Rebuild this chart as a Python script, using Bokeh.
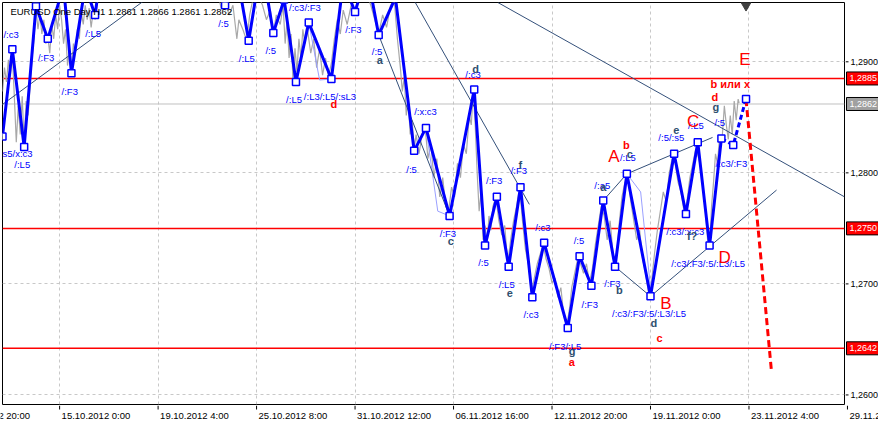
from bokeh.plotting import figure
from bokeh.layouts import row, column
from bokeh.models import Range1d, FixedTicker, Span
from bokeh.core.properties import value
from bokeh.embed import file_html
from bokeh.resources import INLINE

FONT = "Liberation Sans"

# ---------------- data ----------------
# x = H1 bar index (one bar per hour, weekends skipped), y = price
time_tick_bars = [60, 160, 260, 360, 460, 560, 660, 760, 860]
time_tick_labels = ["15.10.2012 0:00", "19.10.2012 4:00", "25.10.2012 8:00", "31.10.2012 12:00",
                    "06.11.2012 16:00", "12.11.2012 20:00", "19.11.2012 0:00", "23.11.2012 4:00",
                    "29.11.2012 8:00"]
first_label_end_bar = 30
first_bar_label = "12.10.2012 20:00"
price_ticks = [1.26, 1.27, 1.28, 1.29]

header_text = "EURUSD One Day H1  1.2861 1.2866 1.2861 1.2862"

support_levels = [1.2885, 1.2750, 1.2642]
bid_price = 1.2862
tag_prices = [1.2885, 1.2750, 1.2642, 1.2862]
tag_colors = ["#FF0000", "#FF0000", "#FF0000", "#A0A0A0"]

close_bar = [2, 4, 6, 8, 10, 12, 14, 16, 18, 20, 22, 24, 26, 28, 30, 32, 34, 36, 38, 40, 42, 44, 46, 48,
             50, 52, 54, 56, 58, 60, 62, 64, 66, 68, 70, 72, 74, 76, 78, 80, 82, 84, 86, 88, 90, 92, 94,
             96, 98, 100, 220, 224, 228, 232, 236, 240, 242, 246, 250, 253, 256, 260, 266, 270, 274, 277,
             280, 284, 287, 289, 291, 293, 295, 297, 299, 301, 303, 305, 307, 309, 311, 313, 315, 318,
             321, 324, 327, 330, 333, 336, 339, 342, 345, 348, 352, 356, 360, 364, 370, 376, 380, 384,
             388, 392, 396, 400, 403, 406, 408, 410, 412, 414, 416, 418, 420, 422, 425, 428, 431, 434,
             437, 440, 443, 446, 449, 452, 455, 458, 461, 464, 467, 470, 473, 476, 478, 480, 482, 484,
             486, 488, 490, 492, 494, 496, 498, 500, 503, 506, 509, 512, 515, 518, 521, 524, 527, 530,
             533, 536, 539, 542, 545, 548, 551, 554, 557, 560, 563, 566, 569, 572, 575, 578, 580, 583,
             586, 589, 592, 595, 598, 601, 604, 607, 610, 613, 616, 619, 622, 625, 628, 631, 634, 637,
             640, 643, 646, 649, 652, 655, 658, 661, 664, 667, 670, 673, 676, 679, 682, 685, 688, 691,
             694, 697, 700, 703, 706, 709, 712, 715, 718, 720, 722, 724, 726, 728, 730, 733, 735, 737,
             739, 741, 743, 745, 747, 749, 750]
close_price = [1.28733, 1.28948, 1.28819, 1.29017, 1.28862, 1.29078, 1.28690, 1.28276, 1.28603, 1.28345,
               1.28690, 1.28259, 1.28647, 1.28517, 1.28776, 1.29034, 1.29207, 1.29483, 1.29293, 1.29422,
               1.29250, 1.29379, 1.29164, 1.29224, 1.29078, 1.29336, 1.29207, 1.29422, 1.29293, 1.29509,
               1.29379, 1.29164, 1.29293, 1.28966, 1.29121, 1.28914, 1.29164, 1.29078, 1.29293, 1.29207,
               1.29448, 1.29336, 1.29509, 1.29379, 1.29483, 1.29310, 1.29448, 1.29379, 1.29509, 1.29638,
               1.29638, 1.29483, 1.29552, 1.29422, 1.29509, 1.29207, 1.29379, 1.29293, 1.29190, 1.29422,
               1.29552, 1.29638, 1.29509, 1.29379, 1.29466, 1.29250, 1.29422, 1.29336, 1.29509, 1.29164,
               1.29379, 1.29034, 1.29250, 1.28828, 1.29121, 1.28905, 1.29207, 1.29034, 1.29293, 1.29164,
               1.29336, 1.29207, 1.29078, 1.29207, 1.28948, 1.29121, 1.28879, 1.29034, 1.28862, 1.28991,
               1.29207, 1.29379, 1.29250, 1.29466, 1.29336, 1.29509, 1.29422, 1.29595, 1.29638, 1.29509,
               1.29379, 1.29250, 1.29422, 1.29310, 1.29509, 1.29534, 1.29207, 1.28948, 1.28733, 1.28862,
               1.28517, 1.28647, 1.28345, 1.28474, 1.28216, 1.28345, 1.28172, 1.28345, 1.28431, 1.28129,
               1.28259, 1.27957, 1.28129, 1.27784, 1.27957, 1.27698, 1.27655, 1.27871, 1.27784, 1.28086,
               1.27957, 1.28259, 1.28172, 1.28517, 1.28431, 1.28733, 1.28431, 1.28000, 1.27655, 1.27828,
               1.27397, 1.27526, 1.27353, 1.27612, 1.27483, 1.27698, 1.27784, 1.27569, 1.27440, 1.27526,
               1.27181, 1.27397, 1.27569, 1.27698, 1.27871, 1.27569, 1.27310, 1.27181, 1.26922, 1.27052,
               1.27181, 1.27267, 1.27353, 1.27224, 1.27138, 1.27009, 1.27052, 1.26879, 1.26966, 1.26707,
               1.26621, 1.26793, 1.26966, 1.27095, 1.27224, 1.27181, 1.27095, 1.27181, 1.27009, 1.27138,
               1.27353, 1.27526, 1.27698, 1.27612, 1.27397, 1.27569, 1.27267, 1.27181, 1.27526, 1.27784,
               1.27914, 1.27957, 1.27741, 1.27569, 1.27397, 1.27483, 1.27224, 1.27095, 1.26922, 1.27009,
               1.27267, 1.27483, 1.27655, 1.27828, 1.27741, 1.28000, 1.28129, 1.28086, 1.27914, 1.27828,
               1.27655, 1.27741, 1.27957, 1.28086, 1.28216, 1.28129, 1.28000, 1.27741, 1.27397, 1.27328,
               1.27698, 1.27914, 1.28172, 1.28086, 1.28302, 1.28345, 1.28603, 1.28431, 1.28302, 1.28517,
               1.28345, 1.28647, 1.28474, 1.28664, 1.28629]

zz_bar = [2, 12, 24, 36, 48, 64, 72, 86, 96, 102, 222, 228, 238, 252, 265, 277, 288, 300, 313, 336,
          348, 360, 372, 384, 401, 420, 432, 456, 481, 492, 504, 516, 528, 540, 552, 576, 588, 600,
          612, 624, 636, 660, 684, 696, 708, 720, 732]
zz_price = [1.28328, 1.29112, 1.28233, 1.29500, 1.29207, 1.29681, 1.28897, 1.29681, 1.29422, 1.29810,
            1.29810, 1.29509, 1.29897, 1.29190, 1.29897, 1.29259, 1.29560, 1.28819, 1.29353, 1.28845,
            1.29724, 1.29448, 1.29810, 1.29241, 1.29578, 1.28198, 1.28405, 1.27612, 1.28750, 1.27345,
            1.27784, 1.27155, 1.27871, 1.26879, 1.27371, 1.26603, 1.27250, 1.26983, 1.27750, 1.27155,
            1.27991, 1.26888, 1.28172, 1.27629, 1.28276, 1.27345, 1.28310]

forecast_bar = [732, 744, 757]
forecast_price = [1.28310, 1.28250, 1.28664]
target_bar = [757, 783]
target_price = [1.28664, 1.26198]

light_bars = [[313, 324, 336], [432, 444, 456], [636, 650, 660]]
light_prices = [[1.29353, 1.28836, 1.28845], [1.28405, 1.27655, 1.27612], [1.27991, 1.27828, 1.26966]]

trend_bars = [[0, 146], [384, 456], [420, 537], [505, 857], [612, 636, 723], [624, 660, 788]]
trend_prices = [[1.28603, 1.29552], [1.29241, 1.27612], [1.29552, 1.27716], [1.29534, 1.27784],
                [1.27750, 1.27991, 1.28319], [1.27155, 1.26888, 1.27845]]

shift_bar = [757]
shift_price = [1.29509]

blue_text = ["/:c3", "/:F3", "/:L5", "/:F3", "s5/x:c3", "/:L5", "/:5", "/:L5", "/:5", "/:c3/:F3", "/:F3",
             "/:L5", "/:L3/:L5/:sL3", "/:5", "/:x:c3", "/:5", "/:c3", "/:F3", "/:F3", "/:F3", "/:c3", "/:5",
             "/:L5", "/:c3", "/:5", "/:F3", "/:F3/:L5", "/:F3", "/:c3/:F3/:5/:L3/:L5",
             "/:c3/:F3/:5/:L3/:L5", "/:c3/:x:c3", "/:a5", "/:L5", "/:5/:s5", "/:L5", "/:5", "/:c3/:F3"]
blue_bar = [3, 38, 86, 62, 2, 14, 221, 242, 269, 293, 350, 290, 308, 377, 420, 412, 472, 493, 518, 446,
            543, 485, 506, 531, 582, 590, 557, 613, 621, 681, 676, 603, 629, 668, 698, 725, 726]
blue_price = [1.29250, 1.29043, 1.29259, 1.28733, 1.28172, 1.28078, 1.29345, 1.29034, 1.29103, 1.29491,
              1.29293, 1.28664, 1.28690, 1.29095, 1.28552, 1.28034, 1.28888, 1.27931, 1.28017, 1.27457,
              1.27509, 1.27190, 1.26991, 1.26724, 1.27388, 1.26819, 1.26440, 1.27000, 1.26733, 1.27181,
              1.27474, 1.27888, 1.28138, 1.28319, 1.28422, 1.28457, 1.28086]

dark_text = ["a", "d", "f", "c", "e", "g", "b", "d", "f?", "a", "c", "e", "g"]
dark_bar = [382, 479, 526, 454, 514, 577, 625, 660, 697, 609, 636, 683, 723]
dark_price = [1.29017, 1.28931, 1.28069, 1.27388, 1.26922, 1.26397, 1.26948, 1.26647, 1.27431, 1.27871,
              1.28172, 1.28388, 1.28595]

red_text = ["d", "a", "c", "b", "d", "b или x"]
red_bar = [335, 577, 666, 632, 722, 721]
red_price = [1.28621, 1.26293, 1.26517, 1.28250, 1.28681, 1.28802]

wave_text = ["A", "B", "C", "D", "E"]
wave_bar = [617, 670, 697, 729, 750]
wave_price = [1.28147, 1.26828, 1.28466, 1.27241, 1.29017]


def fmt_price(v):
    return f"{v:.4f}".replace(".", ",")


# ---------------- layout constants ----------------
TOTAL_W, TOTAL_H = 878, 421
MAIN_W, MAIN_H = 845, 405
SCALE_W = TOTAL_W - MAIN_W
STRIP_H = TOTAL_H - MAIN_H
BL, BR, BT, BB = 2, 1, 2, 1
X0, X1 = 2, 857
Y0, Y1 = 1.25914, 1.29534

# ---------------- main chart ----------------
p = figure(width=MAIN_W, height=MAIN_H, x_range=Range1d(X0, X1), y_range=Range1d(Y0, Y1),
           output_backend="svg", toolbar_location=None, x_axis_location=None, y_axis_location=None,
           min_border_left=BL, min_border_top=BT, min_border_bottom=BB, min_border_right=BR,
           background_fill_color="white", border_fill_color="white",
           outline_line_color="black", outline_line_width=1)

for g in (p.xgrid, p.ygrid):
    g.grid_line_color = "#C8C8C8"
    g.grid_line_dash = "3 3"
p.xgrid.ticker = FixedTicker(ticks=time_tick_bars)
p.ygrid.ticker = FixedTicker(ticks=price_ticks)

for lvl in support_levels:
    p.add_layout(Span(location=lvl, dimension="width", line_color="#FF0000", line_width=1.5,
                      level="underlay"))
p.add_layout(Span(location=bid_price, dimension="width", line_color="#C0C0C0", line_width=1,
                  level="underlay"))

p.line(close_bar, close_price, line_color="#A8A8A8", line_width=1.2)
p.multi_line(light_bars, light_prices, line_color="#9AA0FF", line_width=1)
p.multi_line(trend_bars, trend_prices, line_color="#34507A", line_width=1)

p.line(zz_bar, zz_price, line_color="#0000FF", line_width=3)
p.line(forecast_bar, forecast_price, line_color="#0000FF", line_width=3, line_dash="5 3")
p.line(target_bar, target_price, line_color="#FF0000", line_width=3, line_dash="7 4")
p.scatter(zz_bar, zz_price, marker="square", size=7, fill_color="white", line_color="#0000FF",
          line_width=1.5)
p.scatter(forecast_bar[1:], forecast_price[1:], marker="square", size=7, fill_color="white",
          line_color="#0000FF", line_width=1.5)
p.scatter(shift_bar, shift_price, marker="inverted_triangle", size=10, fill_color="#404040",
          line_color="#404040")

p.text(x=[10], y=[1.29457], text=[header_text], text_font=value(FONT), text_font_size="9.5px",
       text_color="black", text_align="left", text_baseline="middle")
p.text(x=blue_bar, y=blue_price, text=blue_text, text_font=value(FONT), text_font_size="9.5px",
       text_color="#0000FF", text_align="left", text_baseline="middle")
p.text(x=dark_bar, y=dark_price, text=dark_text, text_font=value(FONT), text_font_size="11px",
       text_font_style="bold", text_color="#2F4F6F", text_align="left", text_baseline="middle")
p.text(x=red_bar, y=red_price, text=red_text, text_font=value(FONT), text_font_size="11px",
       text_font_style="bold", text_color="#FF0000", text_align="left", text_baseline="middle")
p.text(x=wave_bar, y=wave_price, text=wave_text, text_font=value(FONT), text_font_size="17px",
       text_color="#FF0000", text_align="left", text_baseline="middle")

# ---------------- price scale (right of the chart) ----------------
q = figure(width=SCALE_W, height=MAIN_H, x_range=Range1d(0, SCALE_W), y_range=p.y_range,
           output_backend="svg", toolbar_location=None, x_axis_location=None, y_axis_location=None,
           min_border_left=0, min_border_top=BT, min_border_bottom=BB, min_border_right=0,
           background_fill_color="white", border_fill_color="white", outline_line_color=None)
q.xgrid.grid_line_color = None
q.ygrid.grid_line_color = None
n = len(price_ticks)
q.segment(x0=[0] * n, y0=price_ticks, x1=[3] * n, y1=price_ticks, line_color="black", line_width=1)
q.text(x=[5] * n, y=price_ticks, text=[fmt_price(v) for v in price_ticks], text_font=value(FONT),
       text_font_size="9px", text_color="black", text_align="left", text_baseline="middle")
m = len(tag_prices)
q.rect(x=[SCALE_W / 2 + 1] * m, y=tag_prices, width=SCALE_W, height=13, height_units="screen",
       fill_color=tag_colors, line_color="black", line_width=1)
q.text(x=[4] * m, y=tag_prices, text=[fmt_price(v) for v in tag_prices], text_font=value(FONT),
       text_font_size="9px", text_color="white", text_align="left", text_baseline="middle")

# ---------------- time scale (below the chart, same bar scale) ----------------
px_per_bar = (MAIN_W - BL - BR) / (X1 - X0)
sx0 = X0 - BL / px_per_bar
sx1 = sx0 + TOTAL_W / px_per_bar
s = figure(width=TOTAL_W, height=STRIP_H, x_range=Range1d(sx0, sx1), y_range=Range1d(0, STRIP_H),
           output_backend="svg", toolbar_location=None, x_axis_location=None, y_axis_location=None,
           min_border_left=0, min_border_top=0, min_border_bottom=0, min_border_right=0,
           background_fill_color="white", border_fill_color="white", outline_line_color=None)
s.xgrid.grid_line_color = None
s.ygrid.grid_line_color = None
k = len(time_tick_bars)
s.segment(x0=time_tick_bars, y0=[STRIP_H] * k, x1=time_tick_bars, y1=[STRIP_H - 4] * k,
          line_color="black", line_width=1)
s.text(x=time_tick_bars, y=[STRIP_H / 2 - 2] * k, text=time_tick_labels, x_offset=2,
       text_font=value(FONT), text_font_size="9.5px", text_color="black", text_align="left",
       text_baseline="middle")
s.text(x=[first_label_end_bar], y=[STRIP_H / 2 - 2], text=[first_bar_label],
       text_font=value(FONT), text_font_size="9.5px", text_color="black", text_align="right",
       text_baseline="middle")

layout = column(row(p, q), s)
open("out.html", "w").write(file_html(layout, INLINE))
